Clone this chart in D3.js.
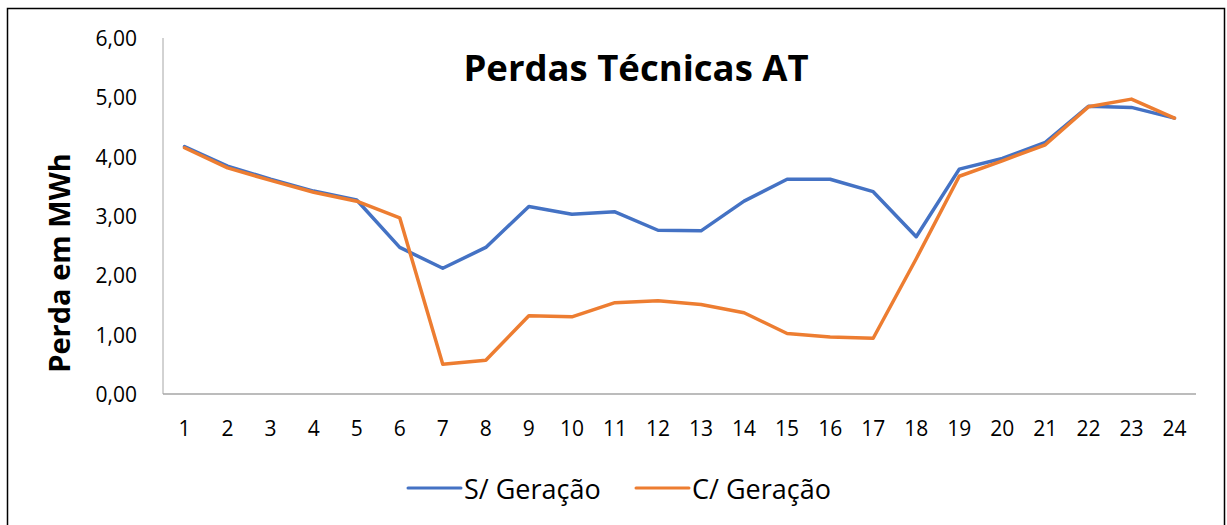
<!DOCTYPE html>
<html>
<head>
<meta charset="utf-8">
<script src="https://cdn.jsdelivr.net/npm/d3@7"></script>
<style>
  body { margin: 0; background: #fff; }
  svg { display: block; }
</style>
</head>
<body>
<div id="chart"></div>
<script>
// data
const hours = d3.range(1, 25);
const semGeracao = [4.17, 3.84, 3.62, 3.42, 3.27, 2.47, 2.12, 2.47, 3.16, 3.03, 3.07, 2.76,
                    2.75, 3.25, 3.62, 3.62, 3.41, 2.65, 3.79, 3.97, 4.24, 4.85, 4.83, 4.65];
const comGeracao = [4.15, 3.81, 3.60, 3.40, 3.25, 2.97, 0.50, 0.57, 1.32, 1.30, 1.54, 1.57,
                    1.51, 1.37, 1.02, 0.96, 0.94, 2.28, 3.67, 3.93, 4.20, 4.84, 4.97, 4.65];
const yTicks = [0, 1, 2, 3, 4, 5, 6];
const seriesNames = ["S/ Geração", "C/ Geração"];
const seriesColors = ["#4472C4", "#ED7D31"];

const width = 1227, height = 525;
const font = "'Open Sans', sans-serif";

const svg = d3.select("#chart").append("svg")
    .attr("width", width)
    .attr("height", height);

// moldura
svg.append("rect")
    .attr("x", 7.5).attr("y", 8.5)
    .attr("width", 1217).attr("height", 530)
    .attr("fill", "#fff")
    .attr("stroke", "#000")
    .attr("stroke-width", 1.5);

const plot = { left: 163, right: 1196, top: 38, bottom: 394 };

const x = d3.scaleBand().domain(hours).range([plot.left, plot.right]);
const y = d3.scaleLinear().domain([0, 6]).range([plot.bottom, plot.top]);

const fmt = v => v.toFixed(2).replace(".", ",");

// eixo y
svg.append("line")
    .attr("x1", plot.left).attr("x2", plot.left)
    .attr("y1", plot.top).attr("y2", plot.bottom)
    .attr("stroke", "#a6a6a6").attr("stroke-width", 1);

svg.selectAll(".ytick").data(yTicks).join("text")
    .attr("x", 137)
    .attr("y", d => y(d))
    .attr("text-anchor", "end")
    .attr("dominant-baseline", "central")
    .style("font-family", font)
    .style("font-size", "21px")
    .style("fill", "#000")
    .text(fmt);

// eixo x
svg.append("line")
    .attr("x1", plot.left).attr("x2", plot.right)
    .attr("y1", plot.bottom).attr("y2", plot.bottom)
    .attr("stroke", "#a6a6a6").attr("stroke-width", 1.5);

svg.selectAll(".xtick").data(hours).join("text")
    .attr("x", d => x(d) + x.bandwidth() / 2)
    .attr("y", 428)
    .attr("text-anchor", "middle")
    .attr("dominant-baseline", "central")
    .style("font-family", font)
    .style("font-size", "21px")
    .style("fill", "#000")
    .text(d => d);

// linhas
const line = d3.line()
    .x((d, i) => x(hours[i]) + x.bandwidth() / 2)
    .y(d => y(d));

[semGeracao, comGeracao].forEach((s, i) => {
    svg.append("path")
        .datum(s)
        .attr("fill", "none")
        .attr("stroke", seriesColors[i])
        .attr("stroke-width", 3.5)
        .attr("stroke-linejoin", "round")
        .attr("stroke-linecap", "round")
        .attr("d", line);
});

// título
svg.append("text")
    .attr("x", 636).attr("y", 67)
    .attr("text-anchor", "middle")
    .attr("dominant-baseline", "central")
    .style("font-family", font)
    .style("font-size", "36.5px")
    .style("font-weight", "bold")
    .text("Perdas Técnicas AT");

// título do eixo y
svg.append("text")
    .attr("transform", "translate(58,263) rotate(-90)")
    .attr("text-anchor", "middle")
    .attr("dominant-baseline", "central")
    .style("font-family", font)
    .style("font-size", "29px")
    .style("font-weight", "bold")
    .text("Perda em MWh");

// legenda
const legendX = [408, 636];
seriesNames.forEach((name, i) => {
    svg.append("line")
        .attr("x1", legendX[i]).attr("x2", legendX[i] + 53)
        .attr("y1", 488).attr("y2", 488)
        .attr("stroke", seriesColors[i])
        .attr("stroke-width", 3)
        .attr("stroke-linecap", "round");
    svg.append("text")
        .attr("x", legendX[i] + 56).attr("y", 488)
        .attr("dominant-baseline", "central")
        .style("font-family", font)
        .style("font-size", "27px")
        .text(name);
});
</script>
</body>
</html>
